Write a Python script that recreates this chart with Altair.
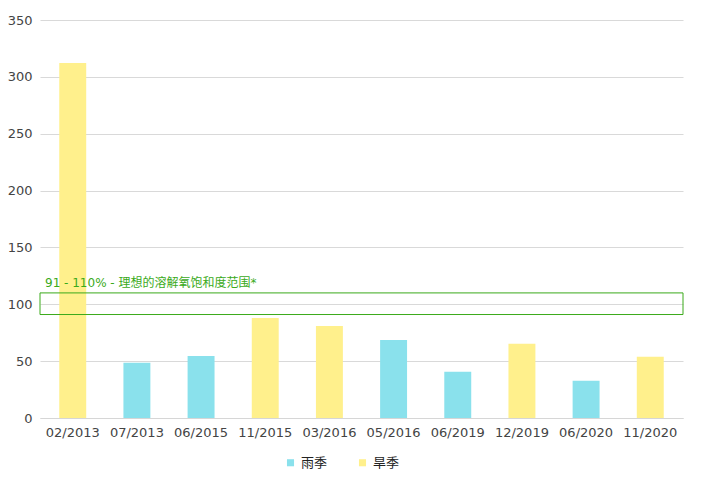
import altair as alt
import pandas as pd

categories = ["02/2013", "07/2013", "06/2015", "11/2015", "03/2016",
              "05/2016", "06/2019", "12/2019", "06/2020", "11/2020"]
values = [312.2, 48.5, 54.6, 88.0, 81.0, 68.7, 40.6, 65.2, 32.7, 53.8]
seasons = ["旱季", "雨季", "雨季", "旱季", "旱季",
           "雨季", "雨季", "旱季", "雨季", "旱季"]
season_order = ["雨季", "旱季"]
season_colors = ["#8ae1ec", "#fff08c"]
band_low, band_high = 91, 110
band_label = "91 - 110% - 理想的溶解氧饱和度范围*"

W, H = 643, 398
FONT = "DejaVu Sans, Noto Sans CJK SC"

df = pd.DataFrame({"date": categories, "value": values, "season": seasons})
band = pd.DataFrame({"lo": [band_low], "hi": [band_high], "label": [band_label]})

bars = alt.Chart(df).mark_bar().encode(
    x=alt.X("date:N", sort=categories, title=None,
            scale=alt.Scale(paddingInner=0.58, paddingOuter=0.3),
            axis=alt.Axis(labelAngle=0, labelFontSize=13, labelColor="#444",
                          labelFont=FONT, ticks=False, domainColor="#d6d6d6",
                          labelPadding=8, grid=False)),
    y=alt.Y("value:Q", title=None,
            scale=alt.Scale(domain=[0, 350]),
            axis=alt.Axis(values=[0, 50, 100, 150, 200, 250, 300, 350],
                          labelFontSize=13, labelColor="#444", labelFont=FONT,
                          ticks=False, domain=False, gridColor="#d9d9d9",
                          labelPadding=8)),
    color=alt.Color("season:N", sort=season_order,
                    scale=alt.Scale(domain=season_order, range=season_colors),
                    legend=alt.Legend(title=None, orient="none", direction="horizontal",
                                      legendX=244, legendY=436, symbolType="square",
                                      symbolSize=50, labelFontSize=13, labelFont=FONT,
                                      labelColor="#222", columnPadding=28,
                                      symbolStrokeWidth=0)),
)

rect = alt.Chart(band).mark_rect(fill=None, stroke="#3aaa1a", strokeWidth=1).encode(
    x=alt.value(0), x2=alt.value(W),
    y="lo:Q", y2="hi:Q",
)

label = alt.Chart(band).mark_text(align="left", baseline="alphabetic", dx=0, dy=-6,
                                  fontSize=12, font=FONT, color="#3aaa1a").encode(
    x=alt.value(5), y="hi:Q", text="label:N",
)

chart = alt.layer(bars, rect, label).properties(
    width=W, height=H,
    autosize=alt.AutoSizeParams(type="none"),
    padding={"left": 32, "top": 12, "right": 11, "bottom": 72},
).configure_view(stroke=None)

chart.save("out.html", embed_options={"renderer": "svg", "actions": False})
